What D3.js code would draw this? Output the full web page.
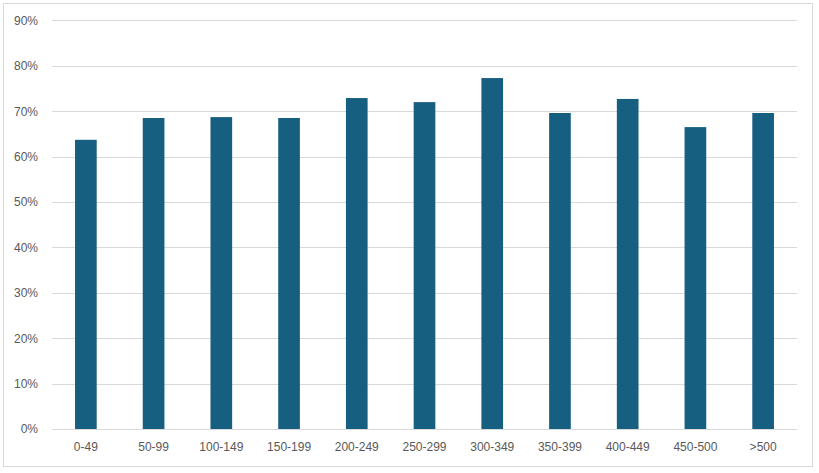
<!DOCTYPE html>
<html><head><meta charset="utf-8">
<script src="https://cdn.jsdelivr.net/npm/d3@7"></script>
<style>body{margin:0;background:#fff;}svg{display:block;}</style>
</head><body>
<script>
const categories = ["0-49","50-99","100-149","150-199","200-249","250-299","300-349","350-399","400-449","450-500",">500"];
const values = [63.7,68.5,68.7,68.5,72.9,72.0,77.3,69.6,72.7,66.5,69.6];
const yTicks = [0,10,20,30,40,50,60,70,80,90];

const W = 819, H = 473;
const m = {left:52, right:22, top:20.4, bottom:44};
const svg = d3.select("body").append("svg").attr("width",W).attr("height",H);
svg.append("rect").attr("x",3.5).attr("y",3.5).attr("width",809).attr("height",463)
  .attr("fill","#fff").attr("stroke","#d9d9d9").attr("stroke-width",1);

const x = d3.scaleBand().domain(categories).range([m.left, W-m.right]).paddingInner(0.68).paddingOuter(0.34);
const y = d3.scaleLinear().domain([0,90]).range([H-m.bottom, m.top]);

const grid = svg.append("g");
grid.selectAll("line").data(yTicks).join("line")
  .attr("x1",m.left).attr("x2",W-m.right)
  .attr("y1",d=>Math.round(y(d))+0.5).attr("y2",d=>Math.round(y(d))+0.5)
  .attr("stroke","#d9d9d9").attr("stroke-width",1);

svg.append("g").selectAll("rect").data(values).join("rect")
  .attr("x",(d,i)=>x(categories[i])).attr("width",x.bandwidth())
  .attr("y",d=>y(d)).attr("height",d=>y(0)-y(d))
  .attr("fill","#165f80");

const yAxis = svg.append("g").attr("transform",`translate(${m.left-14},0)`)
  .call(d3.axisLeft(y).tickValues(yTicks).tickFormat(d=>d+"%").tickSize(0).tickPadding(0));
yAxis.select(".domain").remove();
yAxis.selectAll("text").attr("fill","#595959").style("font-family","Liberation Sans, Arial, sans-serif").style("font-size","12px");

const xAxis = svg.append("g").attr("transform",`translate(0,${H-m.bottom})`)
  .call(d3.axisBottom(x).tickSize(0).tickPadding(13));
xAxis.select(".domain").remove();
xAxis.selectAll("text").attr("fill","#595959").style("font-family","Liberation Sans, Arial, sans-serif").style("font-size","12px");
</script>
</body></html>
